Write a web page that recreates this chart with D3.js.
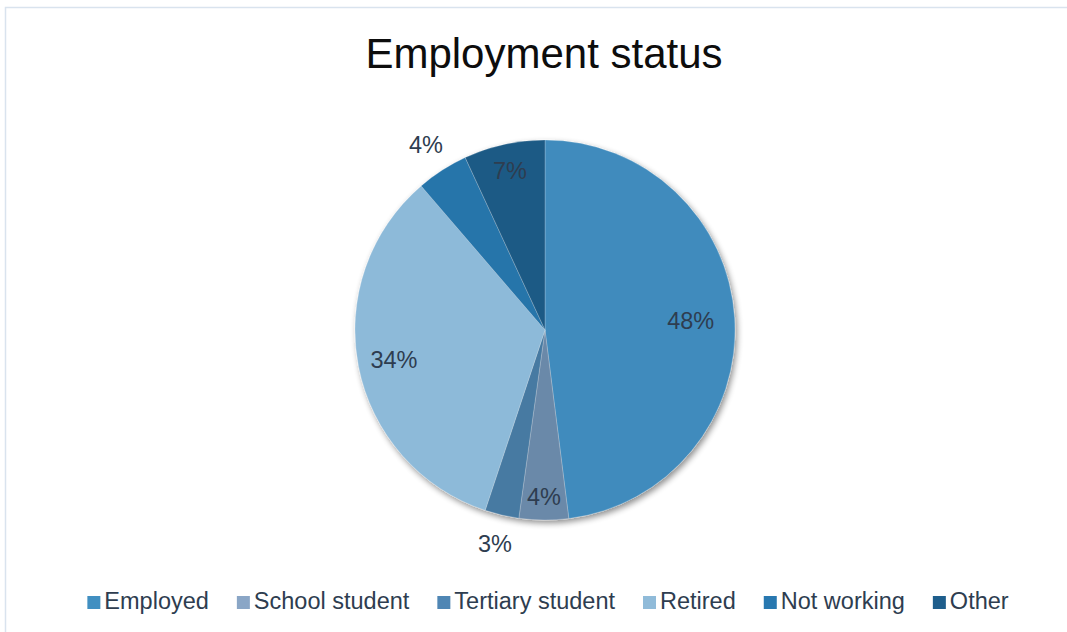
<!DOCTYPE html>
<html>
<head>
<meta charset="utf-8">
<script src="https://cdn.jsdelivr.net/npm/d3@7"></script>
<style>
  html, body { margin: 0; padding: 0; background: #fff; }
  svg { display: block; font-family: "Liberation Sans", Arial, sans-serif; }
</style>
</head>
<body>
<svg id="chart" width="1067" height="632"></svg>
<script>
// data (percent of respondents)
var categories = ["Employed", "School student", "Tertiary student", "Retired", "Not working", "Other"];
var values = [48.0, 4.2, 2.9, 33.6, 4.4, 6.9];
var labels = ["48%", "4%", "3%", "34%", "4%", "7%"];

// slice fills: inner (near centre) and outer (rim) colour
var innerColors = ["#4593c5", "#93b0cf", "#62a2d8", "#94bfdc", "#2b7db4", "#20618f"];
var outerColors = ["#3f8bbd", "#6b89a9", "#477aa2", "#8dbad9", "#2674aa", "#1d5a85"];
var legendColors = ["#418fc1", "#8aa6c6", "#4f86b4", "#90bbd9", "#2878b0", "#1e5e8c"];

var svg = d3.select("#chart"),
    width = 1067,
    height = 632,
    cx = 545,
    cy = 330,
    radius = 190;

// outer frame (only top/left edges fall inside the picture)
svg.append("rect")
  .attr("x", 5.5).attr("y", 7.5)
  .attr("width", width + 10).attr("height", height + 10)
  .attr("fill", "none")
  .attr("stroke", "#d9e3ee")
  .attr("stroke-width", 1.5);

var defs = svg.append("defs");

var shadow = defs.append("filter")
  .attr("id", "shadow")
  .attr("x", "-20%").attr("y", "-20%")
  .attr("width", "140%").attr("height", "140%");
shadow.append("feGaussianBlur").attr("in", "SourceAlpha").attr("stdDeviation", 3);
shadow.append("feOffset").attr("dx", 2).attr("dy", 3).attr("result", "off");
shadow.append("feComponentTransfer").append("feFuncA").attr("type", "linear").attr("slope", 0.45);
var merge = shadow.append("feMerge");
merge.append("feMergeNode");
merge.append("feMergeNode").attr("in", "SourceGraphic");

categories.forEach(function(c, i){
  var g = defs.append("radialGradient")
    .attr("id", "grad" + i)
    .attr("gradientUnits", "userSpaceOnUse")
    .attr("cx", cx).attr("cy", cy).attr("r", radius);
  g.append("stop").attr("offset", "0%").attr("stop-color", innerColors[i]);
  g.append("stop").attr("offset", "100%").attr("stop-color", outerColors[i]);
});

// title
svg.append("text")
  .attr("x", 544)
  .attr("y", 68)
  .attr("text-anchor", "middle")
  .style("font-size", "42px")
  .style("fill", "#0d0d0d")
  .text("Employment status");

var pie = d3.pie().sort(null).startAngle(0).endAngle(2 * Math.PI);
var arcs = pie(values);
var arc = d3.arc().innerRadius(0).outerRadius(radius);

var slices = svg.append("g")
  .attr("class", "slices")
  .attr("transform", "translate(" + cx + "," + cy + ")")
  .attr("filter", "url(#shadow)");

// gradients are in page coordinates, so draw paths in page space
slices.selectAll("path")
  .data(arcs)
  .enter()
  .append("path")
  .attr("d", arc)
  .attr("fill", function(d, i){ return "url(#grad" + i + ")"; })
  .attr("stroke", "rgba(255,255,255,0.35)")
  .attr("stroke-width", 0.6);

// label distance from centre per slice (best-fit placement, some outside)
var labelRadius = [146, 167, 220, 154, 220, 163];

svg.append("g")
  .attr("class", "labels")
  .selectAll("text")
  .data(arcs)
  .enter()
  .append("text")
  .attr("x", function(d, i){
    var a = (d.startAngle + d.endAngle) / 2;
    return cx + labelRadius[i] * Math.sin(a);
  })
  .attr("y", function(d, i){
    var a = (d.startAngle + d.endAngle) / 2;
    return cy - labelRadius[i] * Math.cos(a) + 8;
  })
  .attr("text-anchor", "middle")
  .style("font-size", "23.5px")
  .style("fill", "#2e3d50")
  .text(function(d, i){ return labels[i]; });

// legend
var legend = svg.append("g").attr("class", "legend");
var items = legend.selectAll("g")
  .data(categories)
  .enter()
  .append("g");

items.append("rect")
  .attr("width", 13).attr("height", 13)
  .attr("y", -13)
  .attr("fill", function(d, i){ return legendColors[i]; });

items.append("text")
  .attr("x", 17)
  .style("font-size", "23.5px")
  .style("fill", "#2e3d50")
  .text(function(d){ return d; });

var gap = 28, offsets = [], x = 0;
items.each(function(d, i){
  offsets.push(x);
  x += 17 + this.querySelector("text").getComputedTextLength() + gap;
});
var total = x - gap,
    startX = 548 - total / 2;

items.attr("transform", function(d, i){
  return "translate(" + (startX + offsets[i]) + ",609)";
});
</script>
</body>
</html>
